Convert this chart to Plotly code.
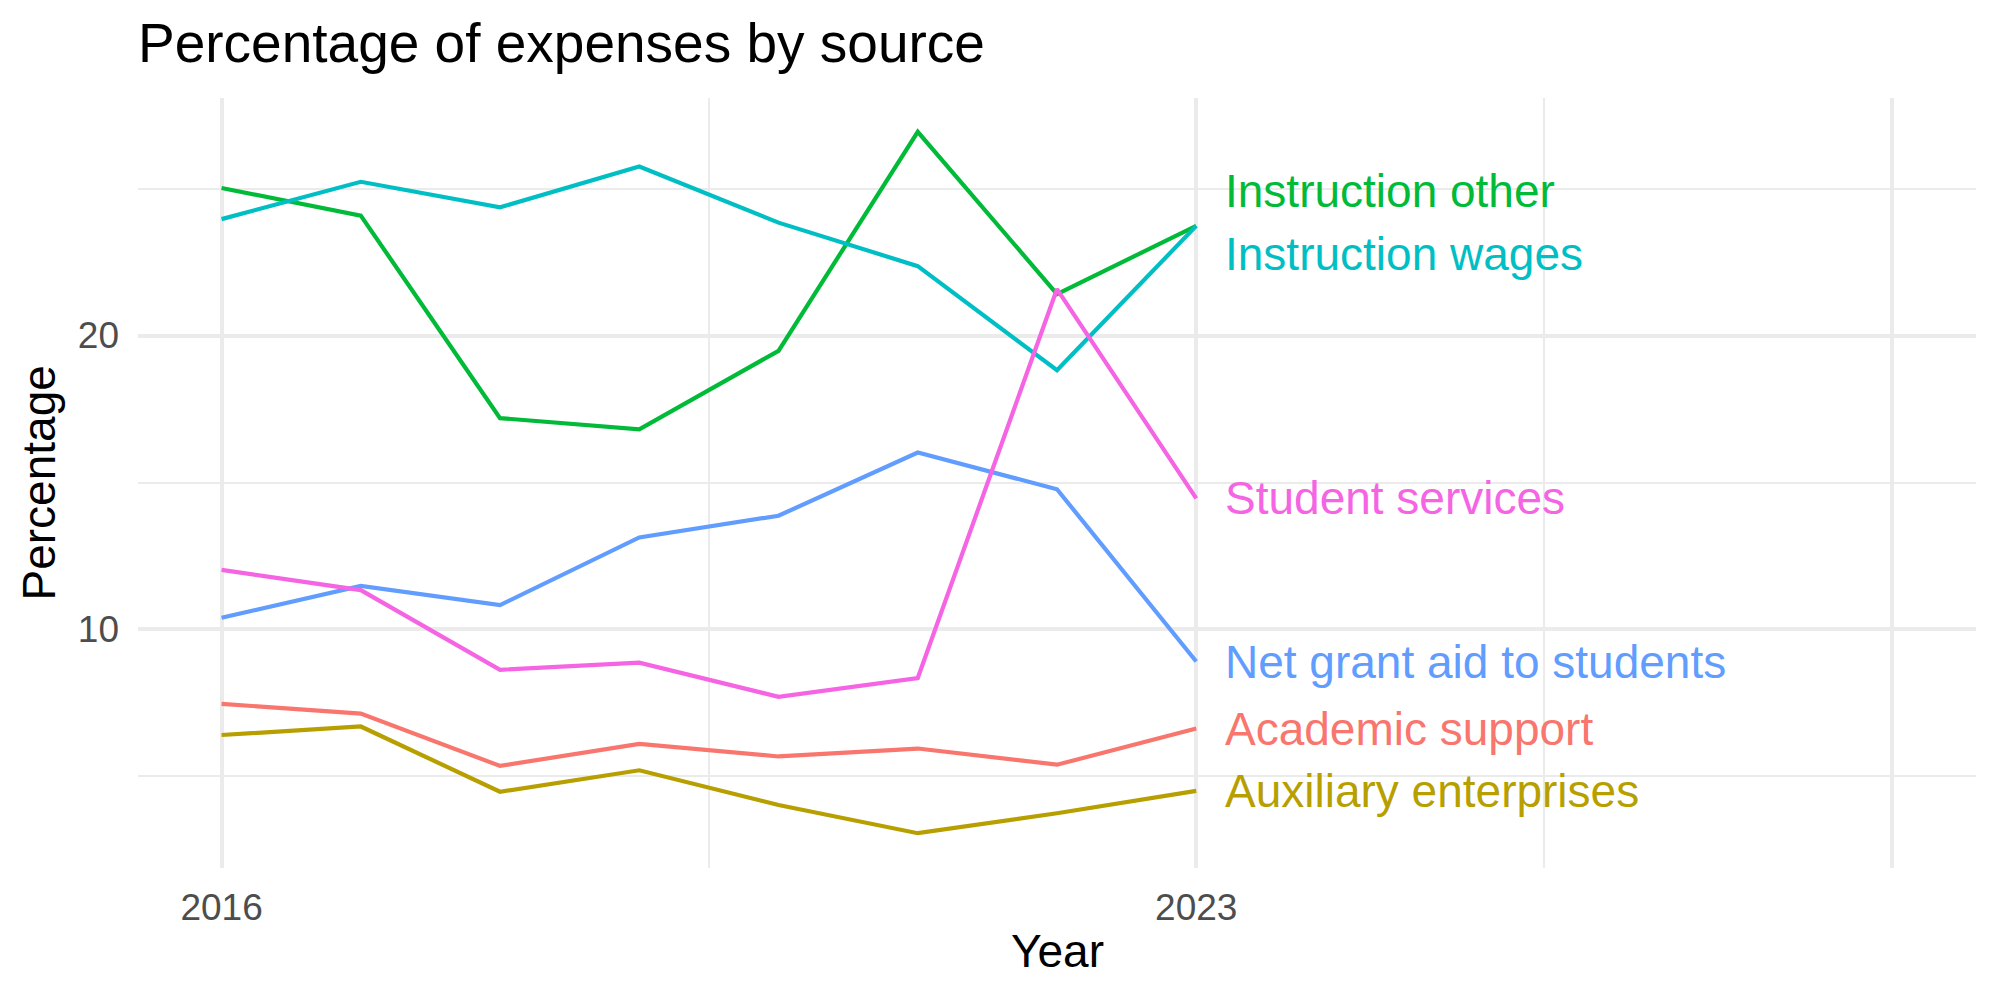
import plotly.graph_objects as go

# ---- data ----
years = [2016, 2017, 2018, 2019, 2020, 2021, 2022, 2023]
sources = ["Academic support", "Auxiliary enterprises", "Instruction other",
           "Instruction wages", "Net grant aid to students", "Student services"]
academic_support = [7.47, 7.14, 5.36, 6.11, 5.68, 5.95, 5.40, 6.63]
auxiliary_enterprises = [6.41, 6.70, 4.48, 5.21, 4.03, 3.07, 3.75, 4.51]
instruction_other = [25.02, 24.08, 17.19, 16.81, 19.48, 26.93, 21.41, 23.73]
instruction_wages = [23.96, 25.23, 24.36, 25.75, 23.84, 22.36, 18.82, 23.73]
net_grant_aid = [10.40, 11.48, 10.83, 13.13, 13.87, 16.02, 14.77, 8.91]
student_services = [12.03, 11.34, 8.63, 8.87, 7.71, 8.35, 21.58, 14.46]
x_tick_vals = [2016, 2023, 2028]
x_tick_text = ["2016", "2023", ""]
y_tick_vals = [10, 20]

series = [academic_support, auxiliary_enterprises, instruction_other,
          instruction_wages, net_grant_aid, student_services]

# ---- style ----
colors = ["#F8766D", "#B79F00", "#00BA38", "#00BFC4", "#619CFF", "#F564E3"]
label_nudge = [0.0, 0.0, 1.2, -0.94, 0.0, 0.0]  # repel offsets for overlapping labels
FONT = "Liberation Sans, Arial, Helvetica, sans-serif"
GRID = "#EBEBEB"

fig = go.Figure()
for name, vals, col in zip(sources, series, colors):
    fig.add_trace(go.Scatter(x=years, y=vals, mode="lines", name=name,
                             line=dict(color=col, width=4.2), showlegend=False))

for name, vals, col, dy in zip(sources, series, colors, label_nudge):
    fig.add_annotation(x=years[-1], y=vals[-1] + dy, xref="x", yref="y",
                       text=name, showarrow=False, xanchor="left", yanchor="middle",
                       xshift=27, font=dict(family=FONT, size=46, color=col))

fig.add_annotation(text="Year", xref="paper", yref="paper", x=0.5, y=-0.108,
                   showarrow=False, xanchor="center", yanchor="middle",
                   font=dict(family=FONT, size=46, color="black"))
fig.add_annotation(text="Percentage", xref="paper", yref="paper", x=-0.0536, y=0.5,
                   showarrow=False, xanchor="center", yanchor="middle", textangle=-90,
                   font=dict(family=FONT, size=46, color="black"))

fig.update_layout(
    width=2000, height=1000,
    margin=dict(l=138, r=24, t=98, b=132),
    paper_bgcolor="white", plot_bgcolor="white",
    font=dict(family=FONT),
    title=dict(text="Percentage of expenses by source", x=138/2000, xanchor="left",
               xref="container", yref="container", y=0.957, yanchor="middle",
               font=dict(family=FONT, size=55, color="black")),
    xaxis=dict(range=[2015.4, 2028.6], tickvals=x_tick_vals, ticktext=x_tick_text,
               showgrid=True, gridcolor=GRID, gridwidth=4, zeroline=False,
               showline=False, ticks="", ticklabelstandoff=14,
               tickfont=dict(family=FONT, size=37, color="#4D4D4D"),
               minor=dict(tickvals=[2019.5, 2025.5], showgrid=True,
                          gridcolor=GRID, gridwidth=2)),
    yaxis=dict(range=[1.886, 28.08], tickvals=y_tick_vals,
               showgrid=True, gridcolor=GRID, gridwidth=4, zeroline=False,
               showline=False, ticks="", ticklabelstandoff=18,
               tickfont=dict(family=FONT, size=37, color="#4D4D4D"),
               minor=dict(tickvals=[5, 15, 25], showgrid=True,
                          gridcolor=GRID, gridwidth=2)),
)

fig.write_html("out.html")
